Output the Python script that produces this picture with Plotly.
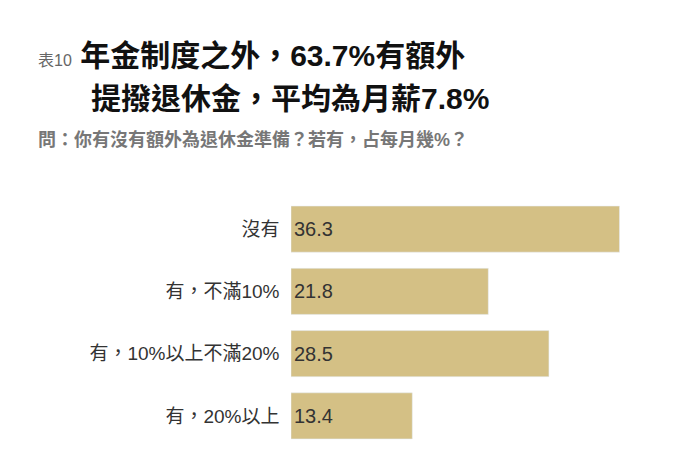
import plotly.graph_objects as go

categories = ["沒有", "有，不滿10%", "有，10%以上不滿20%", "有，20%以上"]
values = [36.3, 21.8, 28.5, 13.4]

L, R, T, B, W, H = 283, 38, 190, 19, 683, 458
PW, PH = W - L - R, H - T - B
def px(x): return (x - L) / PW
def py(y): return (H - B - y) / PH

fig = go.Figure(go.Bar(
    x=values, y=categories, orientation="h",
    marker_color="#d4c085",
    text=[f"{v:.1f}" for v in values],
    textposition="inside", insidetextanchor="start",
    textfont=dict(size=20, color="#333333", family="Liberation Sans, Arial"),
    cliponaxis=False,
))
fig.update_layout(
    width=W, height=H,
    margin=dict(l=L, r=R, t=T, b=B, autoexpand=False),
    paper_bgcolor="white", plot_bgcolor="white",
    font=dict(family="Liberation Sans, Noto Sans CJK TC, sans-serif"),
    bargap=0.26, showlegend=False,
    xaxis=dict(range=[0, 40], visible=False),
    yaxis=dict(autorange="reversed", showgrid=False, showline=False, automargin=False,
               tickfont=dict(size=19, color="#333333"), ticksuffix="  "),
)
fig.add_annotation(x=px(28), y=py(47), xref="paper", yref="paper", showarrow=False,
    xanchor="left", yanchor="middle",
    text="<span style='font-size:16px;color:#666'>表10</span> <b>年金制度之外，63.7%有額外</b>",
    font=dict(size=30, color="#111"))
fig.add_annotation(x=px(81), y=py(91), xref="paper", yref="paper", showarrow=False,
    xanchor="left", yanchor="middle",
    text="<b>提撥退休金，平均為月薪7.8%</b>", font=dict(size=30, color="#111"))
fig.add_annotation(x=px(28), y=py(131), xref="paper", yref="paper", showarrow=False,
    xanchor="left", yanchor="middle",
    text="<b>問：你有沒有額外為退休金準備？若有，占每月幾%？</b>",
    font=dict(size=18, color="#777"))
fig.write_html("out.html")
